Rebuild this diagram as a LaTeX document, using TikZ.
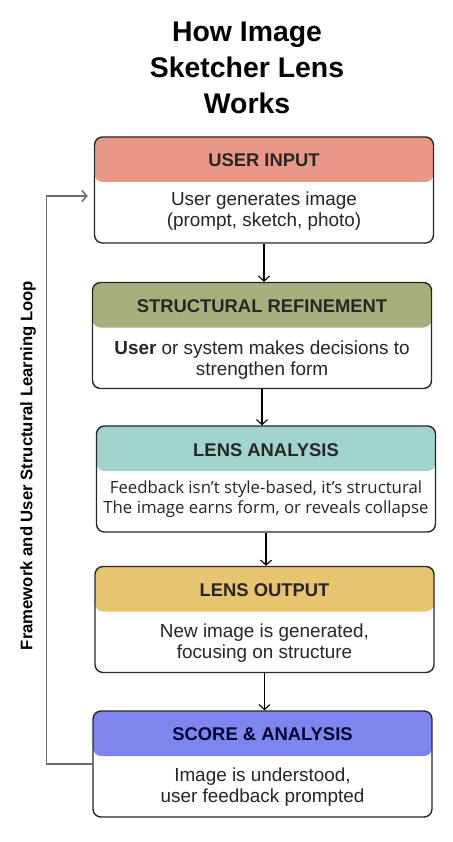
\documentclass[tikz,border=0pt]{standalone}
\usepackage{fontspec}
\setmainfont{Liberation Sans}
\newfontfamily\opensans{Open Sans}
\usetikzlibrary{arrows.meta,positioning}

\definecolor{inputcol}{RGB}{233,152,136}
\definecolor{refinecol}{RGB}{166,176,124}
\definecolor{analysiscol}{RGB}{160,212,204}
\definecolor{outputcol}{RGB}{230,196,112}
\definecolor{scorecol}{RGB}{126,134,238}
\definecolor{loopgray}{RGB}{110,110,110}
\definecolor{edgegray}{RGB}{40,40,40}

\tikzset{
  stage/.style={draw=edgegray, line width=1.4pt, rounded corners=8pt, fill=white,
    minimum width=339pt, minimum height=106pt,
    path picture={\fill[#1] (path picture bounding box.north west) rectangle ([yshift=-45pt]path picture bounding box.north east);}},
  headtext/.style={font=\bfseries\fontsize{18.4}{20}\selectfont, text=black!85},
  bodytext/.style={align=center, font=\fontsize{18.9}{21}\selectfont, text=black!85},
  flow/.style={line width=1.1pt, -{Straight Barb[length=5pt,width=11pt]}},
  loopline/.style={draw=loopgray, line width=1.5pt, -{Straight Barb[length=5pt,width=11pt]}}
}

\begin{document}
\begin{tikzpicture}[x=1pt, y=-1pt]
        \useasboundingbox (0,0) rectangle (452,842);

        % Title
        \node[align=center, font=\bfseries\fontsize{28.4}{36}\selectfont] (title) at (247,68) {How Image\\Sketcher Lens\\Works};

        % Draw stages
        \node[stage=inputcol] (input) at (264,190) {};
        \node[stage=refinecol] (refine) at (262,335.5) {};
        \node[stage=analysiscol] (analysis) at (266,479) {};
        \node[stage=outputcol] (output) at (264.5,619.5) {};
        \node[stage=scorecol] (score) at (262.5,764) {};

        % Headers
        \node[headtext] (inputhead) at ([yshift=-24pt]input.north) {USER INPUT};
        \node[headtext] (refinehead) at ([yshift=-24pt]refine.north) {STRUCTURAL REFINEMENT};
        \node[headtext] (analysishead) at ([yshift=-25pt]analysis.north) {LENS ANALYSIS};
        \node[headtext] (outputhead) at ([yshift=-24pt]output.north) {LENS OUTPUT};
        \node[headtext, text=black!80!blue] (scorehead) at ([yshift=-24pt]score.north) {SCORE \& ANALYSIS};

        % Texts
        \node[bodytext] (inputtext) at ([yshift=-75pt]input.north) {User generates image\\(prompt, sketch, photo)};
        \node[bodytext] (refinetext) at ([yshift=-78pt]refine.north) {\textbf{User} or system makes decisions to\\strengthen form};
        \node[bodytext, font=\opensans\fontsize{16.8}{20}\selectfont] (analysistext) at ([yshift=-74pt]analysis.north) {Feedback isn’t style-based, it’s structural\\The image earns form, or reveals collapse};
        \node[bodytext] (outputtext) at ([yshift=-77pt]output.north) {New image is generated,\\focusing on structure};
        \node[bodytext] (scoretext) at ([yshift=-77pt]score.north) {Image is understood,\\user feedback prompted};

        % Draw connections
        \draw[flow] (input.south) -- (input.south |- refine.north);
        \draw[flow] (refine.south) -- (refine.south |- analysis.north);
        \draw[flow] (analysis.south) -- (analysis.south |- output.north);
        \draw[flow] (output.south) -- (output.south |- score.north);

        % Loop back
        \draw[loopline, shorten >=6pt] (score.west) -- ++(-46,0) |- ([yshift=-6pt]input.west);
        \node[rotate=90, font=\bfseries\fontsize{16.7}{18}\selectfont] (looplabel) at (28,465.5) {Framework and User Structural Learning Loop};
\end{tikzpicture}
\end{document}
